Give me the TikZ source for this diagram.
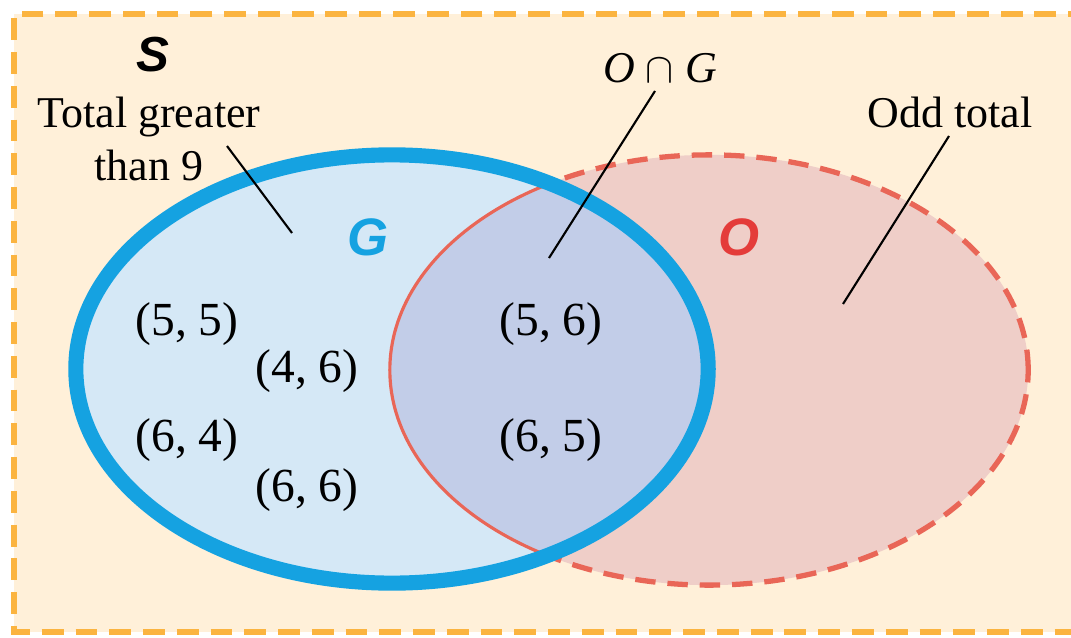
\documentclass[tikz,border=0pt]{standalone}
\usepackage{fontspec}
\setmainfont{Liberation Serif}
\setsansfont{Liberation Sans}
\usetikzlibrary{positioning}

\definecolor{bgcream}{HTML}{FFF0D9}
\definecolor{framedash}{HTML}{FBB440}
\definecolor{gfill}{HTML}{D5E8F6}
\definecolor{ogfill}{HTML}{C2CDE8}
\definecolor{ofill}{HTML}{EFCEC8}
\definecolor{gline}{HTML}{15A2E1}
\definecolor{oline}{HTML}{E96657}
\definecolor{otext}{HTML}{E43C3A}

\tikzset{
    gshape/.style={x radius=3.16cm, y radius=2.14cm},
    oshape/.style={x radius=3.19cm, y radius=2.15cm}
}

\begin{document}
\begin{tikzpicture}[
    x=0.01cm, y=-0.01cm,
    every node/.style={font=\fontsize{12.5}{15}\selectfont, inner sep=1pt},
    setname/.style={font=\fontsize{15}{15}\selectfont\sffamily\bfseries\itshape},
    outcome/.style={font=\fontsize{13.5}{15}\selectfont},
    pointer/.style={draw=black, line width=0.6pt}
]
\useasboundingbox (0,0) rectangle (1071,637);

% sample space S
\fill[bgcream] (14,14) rectangle (1090,632);
\draw[framedash, line width=1.8pt, dash pattern=on 6.2pt off 3.4pt]
    (1090,14) -- (14,14) -- (14,632) -- (1090,632);

\coordinate (cG) at (392,369);
\coordinate (cO) at (709,370);

% odd total
\fill[ofill] (cO) ellipse [oshape];
\draw[oline, line width=1.5pt, dash pattern=on 5.8pt off 3.4pt] (cO) ellipse [oshape];

% greater than 9
\fill[gfill] (cG) ellipse [gshape];
\begin{scope}
    \clip (cG) ellipse [gshape];
    \fill[ogfill] (cO) ellipse [oshape];
    \draw[oline, line width=0.9pt] (cO) ellipse [oshape];
\end{scope}
\draw[gline, line width=4.3pt] (cG) ellipse [gshape];

% labels
\node[font=\fontsize{14}{14}\selectfont\sffamily\bfseries\itshape] (S) at (153,55) {S};
\node[align=center] (gdesc) at (149,139) {Total greater\\than 9};
\node[setname, text=gline] (G) at (368,237) {G};
\node[setname, text=otext] (O) at (739,237) {O};
\node (og) at (660,68) {\textit{O} $\cap$ \textit{G}};
\node (odesc) at (950,112) {Odd total};

\coordinate (gtip) at (292,233);
\coordinate (ogtip) at (549,258);
\coordinate (otip) at (843,304);
\coordinate (gfoot) at (227,146);
\coordinate (ogfoot) at (655,91);
\coordinate (ofoot) at (949,136);
\draw[pointer] (gfoot) -- (gtip);
\draw[pointer] (ogfoot) -- (ogtip);
\draw[pointer] (ofoot) -- (otip);

% outcomes
\node[outcome] (p55) at (187,324) {(5, 5)};
\node[outcome] (p46) at (307,371) {(4, 6)};
\node[outcome] (p64) at (187,440) {(6, 4)};
\node[outcome] (p66) at (307,490) {(6, 6)};
\node[outcome] (p56) at (551,324) {(5, 6)};
\node[outcome] (p65) at (551,440) {(6, 5)};

\end{tikzpicture}
\end{document}
